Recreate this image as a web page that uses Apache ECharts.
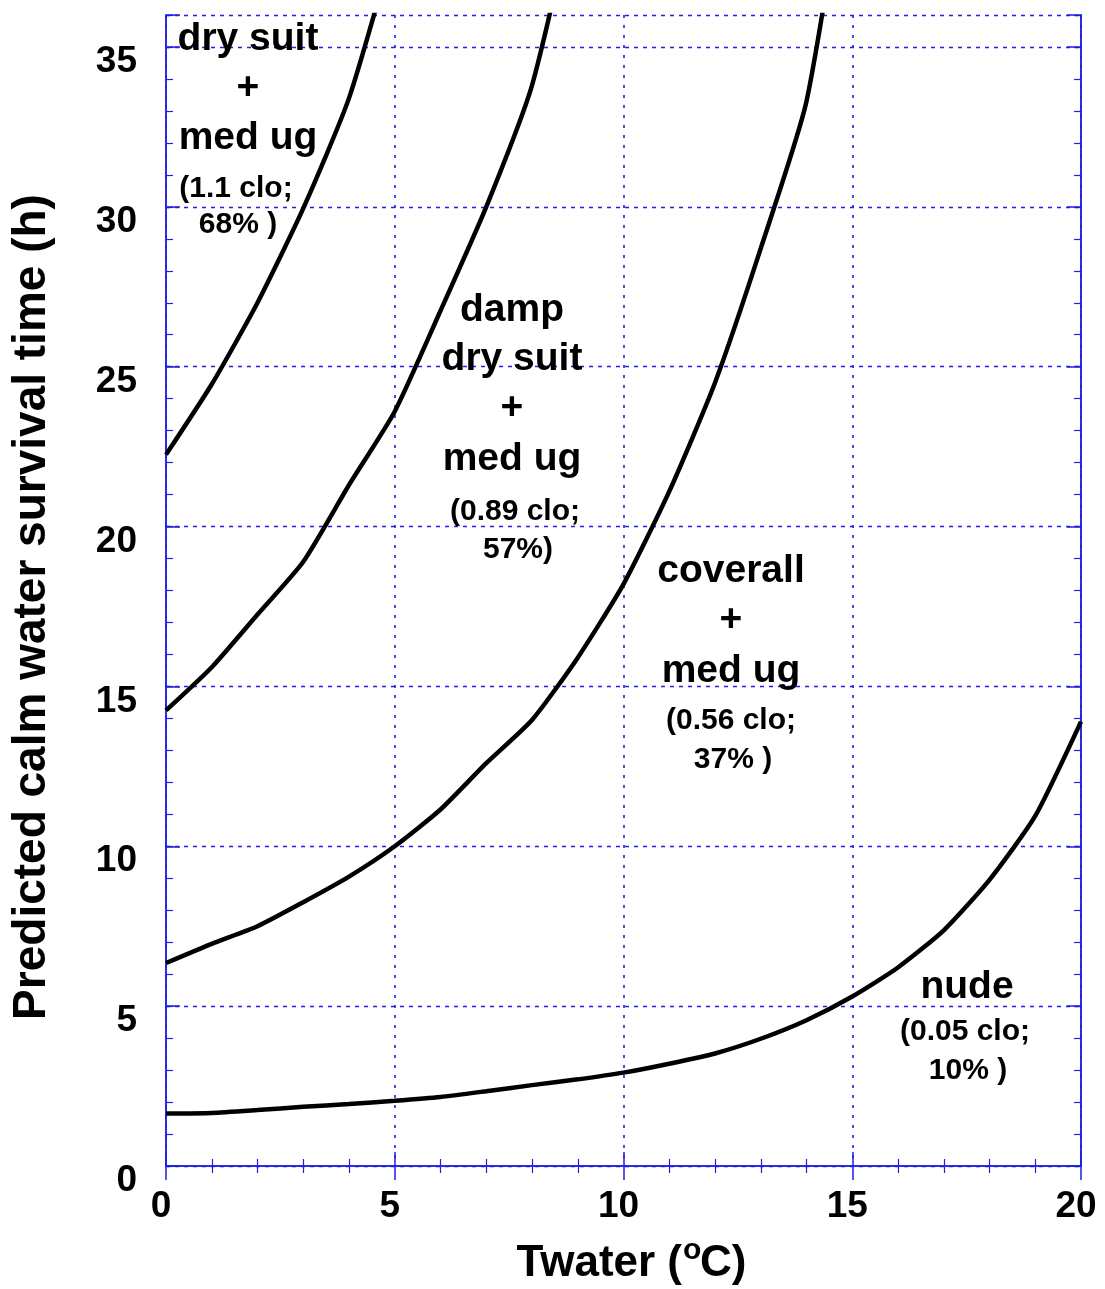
<!DOCTYPE html>
<html>
<head>
<meta charset="utf-8">
<script src="https://cdn.jsdelivr.net/npm/echarts@6/dist/echarts.min.js"></script>
<style>
html,body{margin:0;padding:0;background:#fff;}
#chart{width:1105px;height:1289px;}
</style>
</head>
<body>
<div id="chart"></div>
<script>
// Water temperature (°C) at which each curve is sampled
const temperature = [0,1,2,3,4,5,6,7,8,9,10,11,12,13,14,15,16,17,18,19,20];
// Predicted calm water survival time (h)
const drySuit     = [22.25, 24.45, 27.0, 29.95, 33.4, 38.3];
const dampDrySuit = [14.25, 15.6, 17.25, 18.9, 21.3, 23.6, 26.75, 30.0, 33.8, 39.9];
const coverall    = [6.35, 6.95, 7.5, 8.25, 9.05, 10.0, 11.15, 12.6, 13.95, 15.9, 18.2, 21.1, 24.5, 28.7, 33.3, 42.0];
const nude        = [1.64, 1.66, 1.75, 1.85, 1.94, 2.04, 2.16, 2.34, 2.53, 2.71, 2.92, 3.2, 3.52, 3.98, 4.56, 5.3, 6.21, 7.37, 8.95, 10.95, 13.9];
const xTicks = [0, 5, 10, 15, 20];
const yTicks = [0, 5, 10, 15, 20, 25, 30, 35];

const FONT = "'Liberation Sans', Arial, sans-serif";
const BLUE = '#1f1fe6';

function pairs(arr){ return arr.map((v,i)=>[temperature[i], v]); }

const chart = echarts.init(document.getElementById('chart'), null, {renderer:'canvas'});

const axisLineStyle = {show:true, lineStyle:{color:BLUE, width:1.5}};
const baseX = {
  type:'value', min:0, max:20, interval:5,
  axisLine: axisLineStyle,
  axisTick:{show:true, inside:true, length:14, lineStyle:{color:BLUE, width:1.5}},
  minorTick:{show:true, splitNumber:5, length:7, lineStyle:{color:BLUE, width:1.2}},
  splitLine:{show:false}
};
const yMinor = {
  type:'value', min:0, max:36, interval:1,
  axisLine: axisLineStyle,
  axisTick:{show:true, inside:true, length:7, lineStyle:{color:BLUE, width:1.2}},
  splitLine:{show:false},
  axisLabel:{show:false}
};
const yMajor = {
  type:'value', min:0, max:36, interval:5,
  axisLine: axisLineStyle,
  axisTick:{show:true, inside:true, length:14, lineStyle:{color:BLUE, width:1.5}},
  splitLine:{show:false},
  axisLabel:{show:false}
};

const labelBlocks = [
  {x:248, lines:[['dry suit',39,'b'],['+',88,'b'],['med ug',138,'b']]},
  {x:236, lines:[['(1.1 clo;',189,'s']]},
  {x:238, lines:[['68% )',225,'s']]},
  {x:512, lines:[['damp',310,'b'],['dry suit',359,'b'],['+',408,'b'],['med ug',459,'b']]},
  {x:515, lines:[['(0.89 clo;',512,'s']]},
  {x:518, lines:[['57%)',550,'s']]},
  {x:731, lines:[['coverall',571,'b'],['+',620,'b'],['med ug',671,'b'],['(0.56 clo;',721,'s']]},
  {x:733, lines:[['37% )',760,'s']]},
  {x:967, lines:[['nude',987,'b']]},
  {x:965, lines:[['(0.05 clo;',1032,'s']]},
  {x:968, lines:[['10% )',1071,'s']]}
];
const graphics = [];
labelBlocks.forEach(b=>{
  b.lines.forEach(l=>{
    graphics.push({type:'text', x:b.x, y:l[1], z:100, style:{
      text:l[0], font:'bold '+(l[2]==='b'?'39px ':'30px ')+FONT,
      fill:'#000', textAlign:'center', textVerticalAlign:'middle'}});
  });
});
graphics.push({type:'text', x:32, y:607, rotation:Math.PI/2, z:100, style:{
  text:'Predicted calm water survival time (h)', font:'bold 46px '+FONT,
  fill:'#000', textAlign:'center', textVerticalAlign:'middle'}});
// x-axis title with superscript "o"
graphics.push({type:'text', x:682, y:1264, z:100, style:{
  text:'Twater (', font:'bold 44px '+FONT, fill:'#000', textAlign:'right', textVerticalAlign:'middle'}});
graphics.push({type:'text', x:683, y:1251, z:100, style:{
  text:'o', font:'bold 30px '+FONT, fill:'#000', textAlign:'left', textVerticalAlign:'middle'}});
graphics.push({type:'text', x:700, y:1264, z:100, style:{
  text:'C)', font:'bold 44px '+FONT, fill:'#000', textAlign:'left', textVerticalAlign:'middle'}});

const option = {
  backgroundColor:'#fff',
  animation:false,
  grid:{left:166, right:24, top:15, bottom:123, containLabel:false},
  xAxis:[
    Object.assign({}, baseX, {position:'bottom',
      splitLine:{show:true, lineStyle:{color:BLUE, width:1.6, type:[3,7]}},
      axisLabel:{show:true, margin:22, fontSize:37, fontWeight:'bold', fontFamily:FONT, color:'#000',
        padding:[0,10,0,0],
        formatter:v=> xTicks.indexOf(v)>=0 ? String(v) : ''}}),
    Object.assign({}, baseX, {position:'top', axisLabel:{show:false}})
  ],
  yAxis:[
    Object.assign({}, yMinor, {position:'left',
      axisLabel:{show:true, margin:29, fontSize:37, fontWeight:'bold', fontFamily:FONT, color:'#000',
        verticalAlign:'top', lineHeight:30,
        formatter:v=> yTicks.indexOf(v)>=0 ? String(v) : ''}}),
    Object.assign({}, yMajor, {position:'left',
      splitLine:{show:true, lineStyle:{color:BLUE, width:1.3, type:[4,5]}}}),
    Object.assign({}, yMinor, {position:'right'}),
    Object.assign({}, yMajor, {position:'right'})
  ],
  series:[
    {name:'dry suit + med ug', data:pairs(drySuit)},
    {name:'damp dry suit + med ug', data:pairs(dampDrySuit)},
    {name:'coverall + med ug', data:pairs(coverall)},
    {name:'nude', data:pairs(nude)}
  ].map(s=>Object.assign({type:'line', xAxisIndex:0, yAxisIndex:0, showSymbol:false, symbol:'none',
      clip:true, smooth:0.2, z:10, lineStyle:{color:'#000', width:4.5}, itemStyle:{color:'#000'}}, s)),
  graphic: graphics
};
chart.setOption(option);
</script>
</body>
</html>
